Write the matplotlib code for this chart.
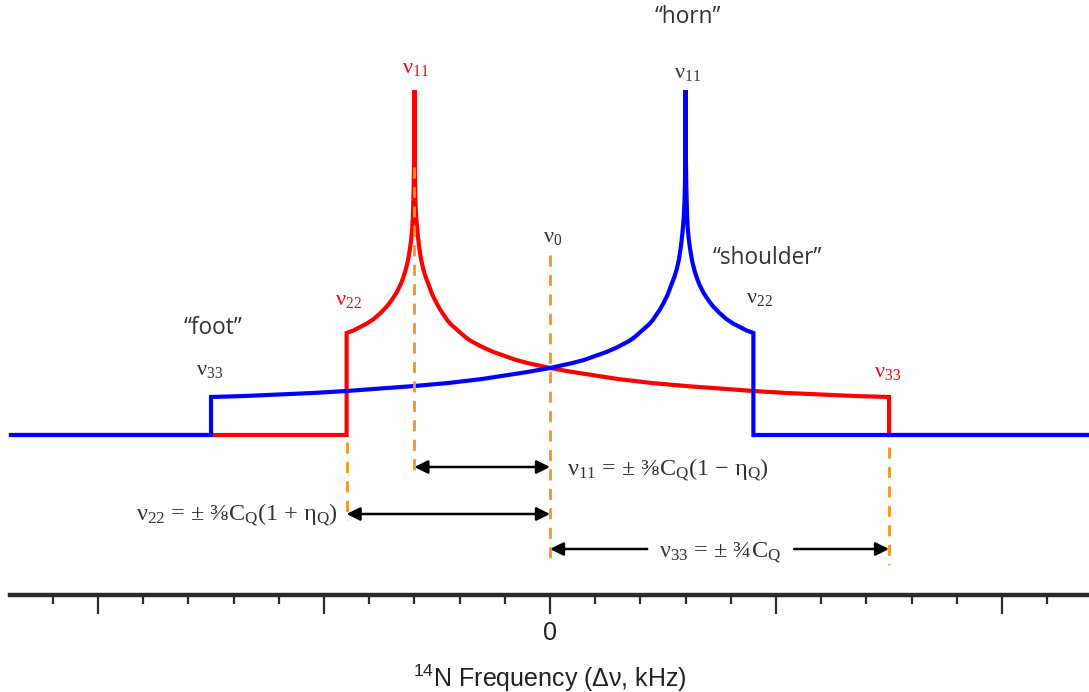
import matplotlib as mpl
mpl.use('Agg')
import numpy as np
import matplotlib.pyplot as plt
from matplotlib.ticker import MultipleLocator, FuncFormatter

plt.rcParams['mathtext.default'] = 'regular'

# --- 14N first-order quadrupolar powder pattern (one transition), kHz ---#
# the other transition is its mirror image about nu0
freq = [-238.5, -90, -90, -87, -84, -81, -78, -75, -72, -70, -68, -66, -65,
        -64, -63, -62.5, -62, -61.5, -61, -60.7, -60.5, -60.3, -60.15,
        -60.05, -60, -59.95, -59.85, -59.7, -59.5, -59.2, -59, -58.5, -58,
        -57.5, -57, -56, -55, -54, -53, -52, -51, -50, -48.5, -47, -45.5,
        -44, -42, -40, -37.5, -35, -32.5, -30, -25, -20, -15, -10, -5, 0,
        10, 20, 30, 45, 60, 75, 90, 105, 120, 135, 150, 150, 238.5]
inten = [0, 0, 102, 104.5, 108, 111.5, 116, 122, 129, 135, 142, 151, 157,
         164, 173, 179, 186, 194, 205, 218, 232, 250, 275,
         310, 345, 310, 275, 250, 232, 218, 212, 200, 190,
         182, 175, 165, 158, 152, 146, 140, 135.5, 131, 125, 120, 115,
         111, 107, 103, 98, 94, 91, 88, 83, 79, 75, 72, 69.5, 67,
         63, 59.5, 56, 52, 49, 46.5, 44, 42, 40.5, 39, 38, 0, 0]

nu11, nu22, nu33 = -60, -90, 150   # red site; blue is +/-

serif = ['Liberation Serif', 'DejaVu Serif']
sans = ['Open Sans', 'DejaVu Sans']
orange = '#F7941D'

fig = plt.figure(figsize=(10.89, 6.92), dpi=100)
ax = fig.add_axes([0, 0, 1, 1])
ax.set_xlim(-550/2.26, (1089-550)/2.26)
ax.set_ylim(435-692, 435)
ax.axis('off')

freq = np.array(freq)
inten = np.array(inten)
ax.plot(freq, inten, color='#FF0000', lw=3, solid_joinstyle='miter', zorder=3)
ax.plot(-freq, inten, color='#0000FF', lw=3, solid_joinstyle='miter', zorder=4)

#--- orange guide lines ---#
dash = dict(color=orange, lw=2, ls=(0, (4, 3)), zorder=5)
ax.plot([0, 0], [180, -130], **dash)
ax.plot([nu11, nu11], [268, -40], **dash)
ax.plot([nu22, nu22], [-7, -85], **dash)
ax.plot([nu33, nu33], [-12, -130], **dash)

#--- peak labels ---#
def nu(x, y, sub, c):
    ax.text(x, y, r'ν$_{%s}$' % sub, color=c, family=serif, fontsize=16,
            ha='center', va='baseline')

nu(nu11 + 0.3, 435-73, '11', '#FF0000')
nu(-nu11 + 1.0, 435-78, '11', '#333333')
nu(nu22 + 0.8, 435-305, '22', '#FF0000')
nu(-nu22 + 2.6, 435-303, '22', '#333333')
nu(nu33 - 0.5, 435-377, '33', '#FF0000')
nu(-nu33 - 0.5, 435-375, '33', '#333333')
nu(1.0, 435-242, '0', '#333333')

txt = dict(family=sans, fontsize=16.3, color='#333333', ha='center', va='center')
ax.text(61, 435-17, '“horn”', **txt)
ax.text(96, 435-258, '“shoulder”', **txt)
ax.text(-149, 435-328, '“foot”', **txt)

#--- splitting arrows ---#
arr = dict(arrowstyle='<|-|>', color='k', lw=1.8, mutation_scale=20,
           shrinkA=0, shrinkB=0)
ax.annotate('', xy=(nu11, -32), xytext=(0, -32), arrowprops=arr)
ax.annotate('', xy=(nu22, -79), xytext=(0, -79), arrowprops=arr)
one = dict(arr, arrowstyle='-|>')
ax.annotate('', xy=(0, -114), xytext=(43, -114), arrowprops=one)
ax.annotate('', xy=(nu33, -114), xytext=(108, -114), arrowprops=one)

fml = dict(family=serif, fontsize=17.5, color='#333333', va='center')
ax.text(7.5, -35, r'ν$_{11}$ = ± ⅜C$_{Q}$(1 − η$_{Q}$)', ha='left', **fml)
ax.text(-94, -80, r'ν$_{22}$ = ± ⅜C$_{Q}$(1 + η$_{Q}$)', ha='right', **fml)
ax.text(75.5, -118, r'ν$_{33}$ = ± ¾C$_{Q}$', ha='center', **fml)

#--- frequency axis ---#
ax2 = fig.add_axes([10/1089, (692-595)/692, 1-10/1089, 0.01])
ax2.set_xlim((10-550)/2.26, (1089-550)/2.26)
ax2.patch.set_alpha(0)
for s in ['top', 'left', 'right']:
    ax2.spines[s].set_visible(False)
ax2.spines['bottom'].set_linewidth(3.2)
ax2.spines['bottom'].set_color('#2a2a2a')
ax2.set_yticks([])
ax2.xaxis.set_major_locator(MultipleLocator(100))
ax2.xaxis.set_minor_locator(MultipleLocator(20))
ax2.xaxis.set_major_formatter(FuncFormatter(lambda v, p: '0' if abs(v) < 1e-6 else ''))
ax2.tick_params(which='major', length=14, width=1.6, color='#2a2a2a', pad=5,
                labelsize=18, labelcolor='#222222')
ax2.tick_params(which='minor', length=6.5, width=1.6, color='#2a2a2a')
for t in ax2.get_xticklabels():
    t.set_family(['Liberation Sans', 'DejaVu Sans'])

fig.text(550/1089, 1-678/692, r'$^{14}$N Frequency (Δν, kHz)', ha='center', va='center',
         fontsize=18, color='#222222', family=['Liberation Sans', 'DejaVu Sans'])

fig.savefig('out.png', dpi=100)
